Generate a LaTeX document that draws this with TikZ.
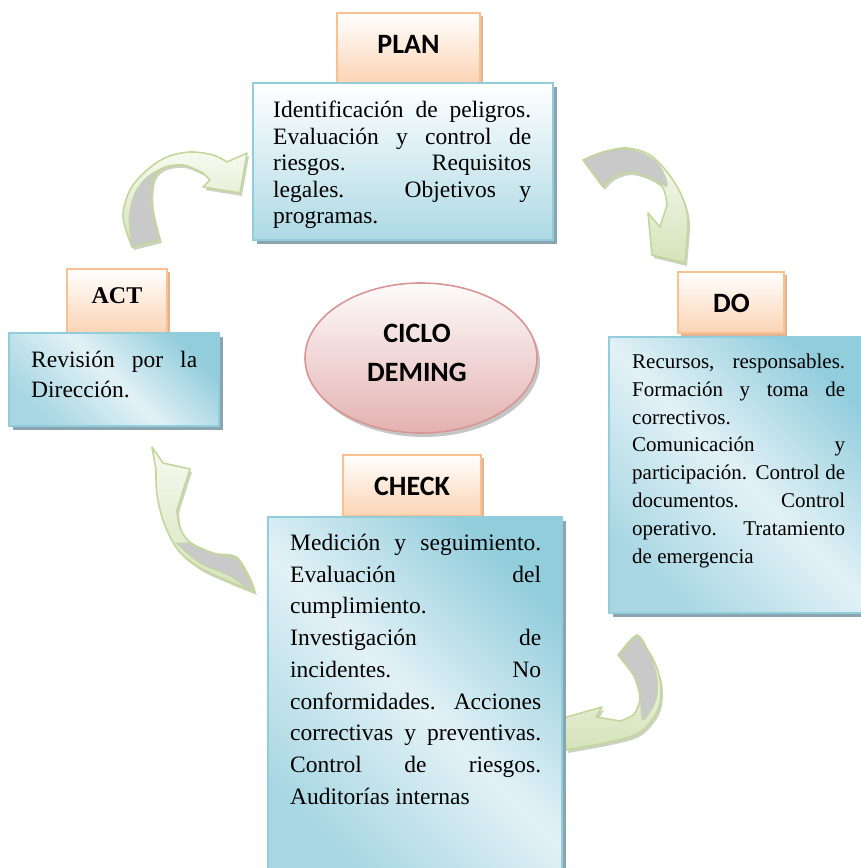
\documentclass[tikz,border=0pt]{standalone}
\usepackage{fontspec}
\setmainfont{Liberation Serif}
\newfontfamily\calib{Carlito}
\usetikzlibrary{shapes.geometric,shadows}
\definecolor{bluedark}{HTML}{92CDDC}
\definecolor{bluelight}{HTML}{E2F1F6}
\definecolor{blueborder}{HTML}{92CDDC}
\definecolor{blueshadow}{HTML}{8AA5AF}
\definecolor{orborder}{HTML}{FAC090}
\definecolor{orfill}{HTML}{FBD4B4}
\definecolor{orshadow}{HTML}{D8A37C}
\definecolor{pinkborder}{HTML}{D99594}
\definecolor{pinkfill}{HTML}{E3B2B1}
\definecolor{grnborder}{HTML}{C3D69B}
\definecolor{grnfill}{HTML}{D5E3BA}
\definecolor{grnlt}{HTML}{F7FAF1}
\definecolor{grayfill}{HTML}{C9C9C9}
\definecolor{arrsh}{HTML}{8E9C78}

\newcommand\cvarrow[4]{%
  \fill[arrshadow,shift={(2,3)}] plot[smooth,tension=.55] coordinates {#1} -- #2 -- plot[smooth,tension=.55] coordinates {#3} -- cycle;
  \shade[arrfill] plot[smooth,tension=.55] coordinates {#1} -- #2 -- plot[smooth,tension=.55] coordinates {#3} -- cycle;
  \filldraw[arrgray] plot[smooth,tension=.55] coordinates {#4} -- cycle;
  \draw[arrline] plot[smooth,tension=.55] coordinates {#1} -- #2 -- plot[smooth,tension=.55] coordinates {#3} -- cycle;
}

\begin{document}
\begin{tikzpicture}[x=1pt,y=-1pt,
  arrshadow/.style={fill=arrsh,opacity=.45},
  arrfill/.style={top color=grnlt,bottom color=grnfill},
  arrgray/.style={fill=grayfill,draw=grnborder,line width=.8pt},
  arrline/.style={draw=grnborder,line width=1.6pt,line join=round},
  bodybox/.style={rectangle,draw=blueborder,line width=1.6pt,inner sep=0pt,
    drop shadow={shadow xshift=4pt,shadow yshift=-4pt,fill=blueshadow,opacity=1}},
  diagshade/.style={top color=bluedark,bottom color=bluedark!80!white,middle color=bluelight,shading angle=-45},
  lblbox/.style={rectangle,draw=orborder,line width=1.6pt,inner sep=0pt,
    top color=white,bottom color=orfill,
    drop shadow={shadow xshift=3pt,shadow yshift=-3pt,fill=orshadow,opacity=.8}},
  lbltext/.style={anchor=base,inner sep=0pt,font=\calib\bfseries\fontsize{28}{30}\selectfont},
  bodytext/.style={anchor=north west,inner sep=0pt,align=justify,
    execute at begin node={\tolerance=10000\hbadness=10000\hfuzz=20pt\hyphenpenalty=10000}},
]
\useasboundingbox (0,0) rectangle (861,868);

% ---------- curved arrows ----------
% ACT -> PLAN
\cvarrow{(132,247) (123,217) (130,190) (147,170) (167,157) (190,152) (213,155) (227,162)}
        {(247,153) -- (240,193) -- (203,187) -- (210,180)}
        {(203,173) (183,165) (163,168) (153,180) (152,207) (160,240)}
        {(132,247) (129,220) (134,195) (146,178) (163,168) (153,180) (152,207) (160,240)}
% PLAN -> DO
\cvarrow{(583,160) (603,152) (627,148) (650,155) (667,172) (680,192) (687,212) (688,228)}
        {(685,263) -- (652,255) -- (648,213) -- (660,227)}
        {(667,205) (663,188) (650,178) (630,172) (613,177) (603,187)}
        {(583,160) (603,152) (627,149) (648,156) (661,168) (667,186) (650,178) (630,172) (613,177) (603,187)}
% DO -> CHECK
\cvarrow{(637,635) (652,657) (660,680) (660,703) (652,720) (635,735) (600,744)}
        {(566,750) -- (563,718) -- (602,707) -- (596,717)}
        {(620,721) (634,714) (640,697) (634,676) (618,655)}
        {(618,655) (637,635) (650,655) (657,678) (656,700) (643,720) (640,697) (634,676)}
% CHECK -> ACT
\cvarrow{(255,592) (228,581) (200,568) (178,550) (164,523) (157,495) (156,470)}
        {(152,447) -- (163,463) -- (190,469) -- (182,494)}
        {(177,510) (180,528) (191,543) (213,553) (238,558)}
        {(176,543) (200,563) (230,576) (255,592) (238,558) (213,553) (191,543)}

% ---------- PLAN ----------
\node[lblbox,minimum width=143,minimum height=70] (planlbl) at (408.5,48) {};
\node[lbltext] (plantxt) at (408.5,53) {PLAN};
\node[bodybox,top color=white,bottom color=bluedark!75!white,minimum width=300,minimum height=157] (planbody) at (403,161.5) {};
\node[bodytext,text width=258,font=\fontsize{23.5}{26.5}\selectfont] (plantext) at (273,101)
  {Identificación de peligros.\linebreak Evaluación y control de\linebreak riesgos. Requisitos\linebreak legales. Objetivos y\linebreak programas.};

% ---------- DO ----------
\node[lblbox,minimum width=106,minimum height=61] (dolbl) at (731,302.5) {};
\node[lbltext] (dotxt) at (731.5,312) {DO};
\node[bodybox,diagshade,minimum width=260,minimum height=276] (dobody) at (739,475) {};
\node[bodytext,text width=213,font=\fontsize{21}{27.9}\selectfont] (dotext) at (632,353.5)
  {Recursos, responsables.\linebreak Formación y toma de\linebreak correctivos.\linebreak Comunicación y\linebreak participación. Control de\linebreak documentos. Control\linebreak operativo. Tratamiento\linebreak de emergencia};

% ---------- ACT ----------
\node[lblbox,minimum width=100,minimum height=64] (actlbl) at (117,301) {};
\node[anchor=base,inner sep=0pt,font=\bfseries\fontsize{24}{26}\selectfont] (acttxt) at (117,303) {ACT};
\node[bodybox,diagshade,minimum width=210,minimum height=93] (actbody) at (114,379.5) {};
\node[bodytext,text width=166,font=\fontsize{23.5}{30}\selectfont] (acttext) at (31,351)
  {Revisión por la\linebreak Dirección.};

% ---------- CHECK ----------
\node[lblbox,minimum width=138,minimum height=61] (checklbl) at (412,485.5) {};
\node[lbltext] (checktxt) at (412,495) {CHECK};
\node[bodybox,diagshade,minimum width=294,minimum height=363] (checkbody) at (415,698.5) {};
\node[bodytext,text width=251,font=\fontsize{23.5}{31.7}\selectfont] (checktext) at (290,534)
  {Medición y seguimiento.\linebreak Evaluación del\linebreak cumplimiento.\linebreak Investigación de\linebreak incidentes. No\linebreak conformidades. Acciones\linebreak correctivas y preventivas.\linebreak Control de riesgos.\linebreak Auditorías internas};

% ---------- CICLO DEMING ----------
\node[ellipse,draw=pinkborder,line width=1.6pt,top color=white!95!pinkfill,bottom color=pinkfill,
  minimum width=232,minimum height=150,inner sep=0pt,
  drop shadow={shadow xshift=3pt,shadow yshift=-4pt,fill=black!45,opacity=.5}] (ciclo) at (421,358) {};
\node[lbltext] (ciclo1) at (417,342) {CICLO};
\node[lbltext] (ciclo2) at (417,381) {DEMING};
\end{tikzpicture}
\end{document}
